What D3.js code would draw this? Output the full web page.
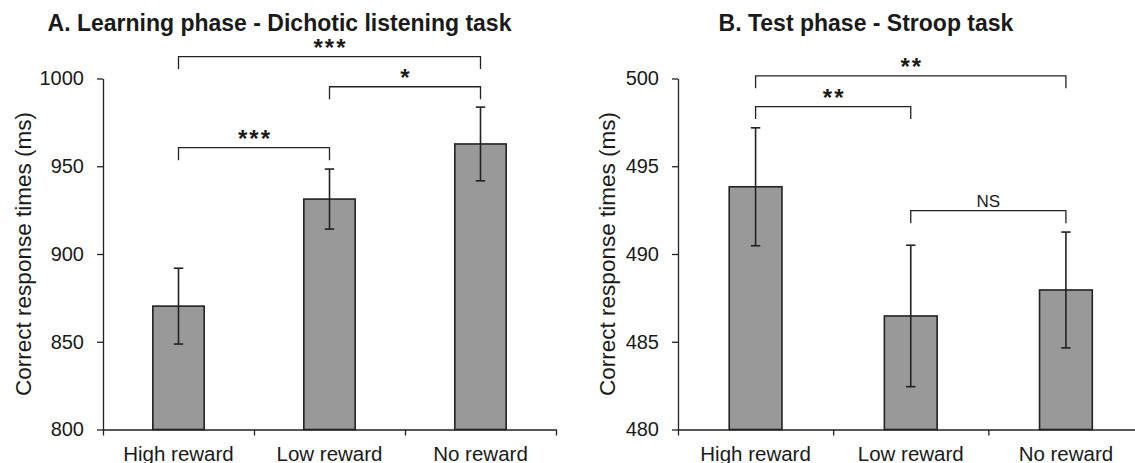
<!DOCTYPE html>
<html>
<head>
<meta charset="utf-8">
<script src="https://cdn.jsdelivr.net/npm/d3@7"></script>
<style>
  body { margin: 0; background: #fff; }
  svg { display: block; font-family: "Liberation Sans", Arial, sans-serif; }
</style>
</head>
<body>
<svg id="chart" width="1135" height="463"></svg>
<script>
// categories shared by both panels
var categories = ["High reward", "Low reward", "No reward"];

// panel A - dichotic listening (ms)
var learnMeans = [870.3, 931.3, 962.7];
var learnErrors = [21.6, 17.1, 21.0];
var learnTicks = [800, 850, 900, 950, 1000];
// brackets: from / to category index, level in ms
var learnSigs = [
  {from: 0, to: 2, level: 1012.5, label: "***"},
  {from: 1, to: 2, level: 995.3, label: "*"},
  {from: 0, to: 1, level: 960.6, label: "***"}
];

// panel B - stroop (ms)
var stroopMeans = [493.83, 486.47, 487.95];
var stroopErrors = [3.36, 4.03, 3.3];
var stroopTicks = [480, 485, 490, 495, 500];
var stroopSigs = [
  {from: 0, to: 2, level: 500.15, label: "**"},
  {from: 0, to: 1, level: 498.4, label: "**"},
  {from: 1, to: 2, level: 492.47, label: "NS"}
];

var svg = d3.select("#chart");
var ink = "#222";

function drawPanel(p){
	var g = svg.append("g");
	var y = d3.scaleLinear().domain(p.domain).range([429.5, 78.5]);
	var x = d3.scaleBand().domain(categories).range(p.xr)
		.paddingInner(0.66).paddingOuter(0.33);
	var xb = d3.scaleLinear().domain([0, categories.length]).range(p.xr);

	// title
	g.append("text").attr("x", p.titleX).attr("y", 30.5)
		.attr("text-anchor", "middle")
		.style("font-size", "23px").style("font-weight", "bold").style("fill", "#1a1a1a")
		.text(p.title);

	// y axis
	var ya = g.append("g").attr("transform", "translate(" + p.xr[0] + ",0)")
		.call(d3.axisLeft(y).tickValues(p.ticks).tickFormat(d3.format("d"))
			.tickSize(6).tickPadding(13).tickSizeOuter(0));
	ya.select(".domain").attr("stroke", ink).attr("stroke-width", 1.3);
	ya.selectAll(".tick line").attr("stroke", ink).attr("stroke-width", 1.3);
	ya.selectAll(".tick text").style("font-size", "20px").style("fill", "#1a1a1a");

	// x axis with ticks between categories
	var xa = g.append("g").attr("transform", "translate(0,429.5)")
		.call(d3.axisBottom(xb).tickValues(d3.range(categories.length + 1))
			.tickSize(6).tickFormat("").tickSizeOuter(0));
	xa.select(".domain").attr("stroke", ink).attr("stroke-width", 1.3);
	xa.selectAll(".tick line").attr("stroke", ink).attr("stroke-width", 1.3);

	g.selectAll(".cat").data(categories).enter().append("text")
		.attr("x", function(d){ return x(d) + x.bandwidth() / 2; })
		.attr("y", 460.5)
		.attr("text-anchor", "middle")
		.style("font-size", "20.5px").style("fill", "#1a1a1a")
		.text(function(d){ return d; });

	// y label
	g.append("text")
		.attr("transform", "translate(" + p.labelX + "," + ((78.5 + 429.5) / 2) + ") rotate(-90)")
		.attr("text-anchor", "middle")
		.style("font-size", "22.5px").style("fill", "#1a1a1a")
		.text("Correct response times (ms)");

	// bars
	g.selectAll(".bar").data(p.means).enter().append("rect")
		.attr("x", function(d, i){ return x(categories[i]); })
		.attr("y", function(d){ return y(d); })
		.attr("width", x.bandwidth())
		.attr("height", function(d){ return y(p.domain[0]) - y(d); })
		.attr("fill", "#999999").attr("stroke", ink).attr("stroke-width", 1.6);

	// error bars
	var cx = function(i){ return x(categories[i]) + x.bandwidth() / 2; };
	p.means.forEach(function(m, i){
		var e = p.errors[i];
		var eg = g.append("g").attr("stroke", ink).attr("stroke-width", 1.6);
		eg.append("line").attr("x1", cx(i)).attr("x2", cx(i)).attr("y1", y(m - e)).attr("y2", y(m + e));
		eg.append("line").attr("x1", cx(i) - 4.7).attr("x2", cx(i) + 4.7).attr("y1", y(m - e)).attr("y2", y(m - e));
		eg.append("line").attr("x1", cx(i) - 4.7).attr("x2", cx(i) + 4.7).attr("y1", y(m + e)).attr("y2", y(m + e));
	});

	// significance brackets
	p.sigs.forEach(function(s){
		var x1 = cx(s.from), x2 = cx(s.to), ly = y(s.level);
		g.append("path")
			.attr("d", "M" + x1 + "," + (ly + 12.5) + "V" + ly + "H" + x2 + "V" + (ly + 12.5))
			.attr("fill", "none").attr("stroke", ink).attr("stroke-width", 1.3);
		var ns = s.label == "NS";
		g.append("text")
			.attr("x", (x1 + x2) / 2 + (ns ? 0 : 1))
			.attr("y", ns ? ly - 4 : ly - 0.5)
			.attr("text-anchor", "middle")
			.style("font-size", ns ? "17px" : "24px")
			.style("font-weight", ns ? "normal" : "bold")
			.style("letter-spacing", ns ? "0px" : "2px")
			.style("fill", "#1a1a1a")
			.text(s.label);
	});
}

drawPanel({title: "A. Learning phase - Dichotic listening task", titleX: 279.5,
	domain: [800, 1000], ticks: learnTicks, xr: [103, 556], labelX: 30.5,
	means: learnMeans, errors: learnErrors, sigs: learnSigs});

drawPanel({title: "B. Test phase - Stroop task", titleX: 866,
	domain: [480, 500], ticks: stroopTicks, xr: [678, 1143.5], labelX: 615,
	means: stroopMeans, errors: stroopErrors, sigs: stroopSigs});
</script>
</body>
</html>
